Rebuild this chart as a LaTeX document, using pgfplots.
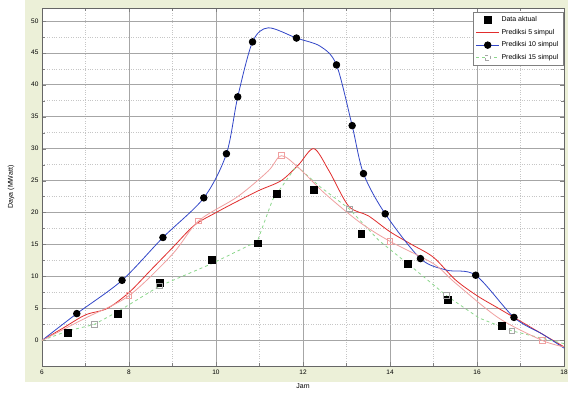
\documentclass[border=0pt]{standalone}
\usepackage{pgfplots}
\pgfplotsset{compat=1.18}
\usepackage{fontspec}
\setmainfont{Liberation Sans}
\definecolor{beige}{RGB}{236,240,216}
\definecolor{bl}{RGB}{50,70,200}
\definecolor{rd}{RGB}{225,45,45}
\definecolor{gr}{RGB}{140,215,140}
\definecolor{pk}{RGB}{240,160,160}
\begin{document}
\begin{tikzpicture}
\useasboundingbox (-42pt,-31pt) rectangle (526pt,366pt);
\fill[white] (-42pt,-31pt) rectangle (526pt,366pt);
\fill[beige] (-17pt,-16pt) rectangle (526pt,366pt);
\begin{axis}[
  scale only axis, width=522pt, height=358pt,
  xmin=6, xmax=18, ymin=-4, ymax=52,
  xtick={6,8,...,18}, ytick={0,5,...,50},
  minor x tick num=1, minor y tick num=1,
  grid=both,
  major grid style={gray!70, line width=0.5pt},
  minor grid style={gray!45, dotted},
  axis line style={gray!80!black},
  axis background/.style={fill=white},
  tick label style={font=\fontsize{6.5}{7}\selectfont, /pgf/number format/assume math mode=true},
  xlabel={Jam}, ylabel={Daya (MWatt)},
  label style={font=\fontsize{7}{8}\selectfont},
  xlabel style={yshift=-3pt},
  ylabel style={yshift=10pt},
  legend style={at={(1,1)}, anchor=north east, xshift=-1pt, yshift=-4pt,
    font=\fontsize{7}{8.5}\selectfont, draw=gray, row sep=2pt,
    inner sep=2.5pt},
  legend cell align=left,
  tick style={gray},
]
\addplot[only marks, mark=square*, mark size=3.4pt, black,
  legend image code/.code={\draw[mark=square*, mark size=3.4pt, black] plot coordinates {(0.4cm,0cm)};}] coordinates {
(6.6,1.25) (7.74,4.2) (8.7,9) (9.9,12.6) (10.95,15.2) (11.4,23) (12.24,23.6)
(13.34,16.7) (14.4,12) (15.33,6.4) (16.57,2.3)};
\addlegendentry{Data aktual}
\addplot[rd, line width=0.8pt, smooth, no marks,
  legend image code/.code={\draw[rd, line width=0.8pt] (0cm,0cm) -- (0.8cm,0cm);}] coordinates {
(6,0) (6.5,2) (7,4) (7.5,5) (8,7.5) (8.5,11) (9,14.5) (9.5,18) (10,20) (10.5,21.8)
(11,23.5) (11.5,25) (11.9,27.5) (12.25,30) (12.6,26.5) (13.05,21) (13.5,19.5)
(14,17) (14.5,15) (15,13) (15.5,9.5) (16,7) (16.5,5) (17,3) (17.5,1) (18,-1)};
\addlegendentry{Prediksi 5 simpul}
\addplot[bl, line width=0.8pt, smooth, mark=*, mark size=3.3pt,
  mark options={black, fill=black},
  mark indices={2,3,4,5,6,7,8,10,12,13,14,15,16,18,19},
  legend image code/.code={\draw[bl, line width=0.8pt] (0cm,0cm) -- (0.8cm,0cm);
    \fill[black] (0.4cm,0cm) circle (3.3pt);}] coordinates {
(6,0) (6.8,4.2) (7.84,9.4) (8.78,16.1) (9.72,22.3) (10.24,29.2) (10.5,38.1)
(10.84,46.7) (11.2,48.9) (11.85,47.3) (12.4,46) (12.77,43.1) (13.13,33.6)
(13.39,26.1) (13.89,19.8) (14.7,12.8) (15.3,11) (15.97,10.2) (16.85,3.6)
(17.5,1) (18,-1.2)};
\addlegendentry{Prediksi 10 simpul}
\addplot[gr, line width=0.8pt, dashed, mark=square, mark size=2.8pt,
  mark options={solid, gray!70}, mark indices={3,5,11,14,16},
  legend image code/.code={\draw[gr, line width=0.8pt, dashed] (0cm,0cm) -- (0.8cm,0cm);
    \draw[gray!70, fill=white] (0.4cm-2.8pt,-2.8pt) rectangle (0.4cm+2.8pt,2.8pt);}] coordinates {
(6,0) (6.6,1.5) (7.2,2.5) (7.74,4.5) (8.7,8.5) (9.9,12) (10.95,15.5) (11.3,22)
(11.85,27.3) (12.4,24) (13.06,20.6) (13.75,15.6) (14.5,11.5) (15.3,7) (16.05,3.5)
(16.8,1.5) (18,-0.5)};
\addlegendentry{Prediksi 15 simpul}
\addplot[pk, line width=0.8pt, smooth, mark=square, mark size=2.8pt,
  mark options={solid, pk}, mark indices={3,5,8,12,16}, forget plot] coordinates {
(6,0) (7,3.5) (8,7) (9,13.5) (9.6,18.7) (10.5,22.5) (11.2,26.5) (11.5,28.9)
(11.9,27) (12.5,23) (13.3,18.5) (14,15.5) (15,12) (15.5,9) (16.5,3.5) (17.5,0) (18,-1)};
\end{axis}
\end{tikzpicture}
\end{document}
